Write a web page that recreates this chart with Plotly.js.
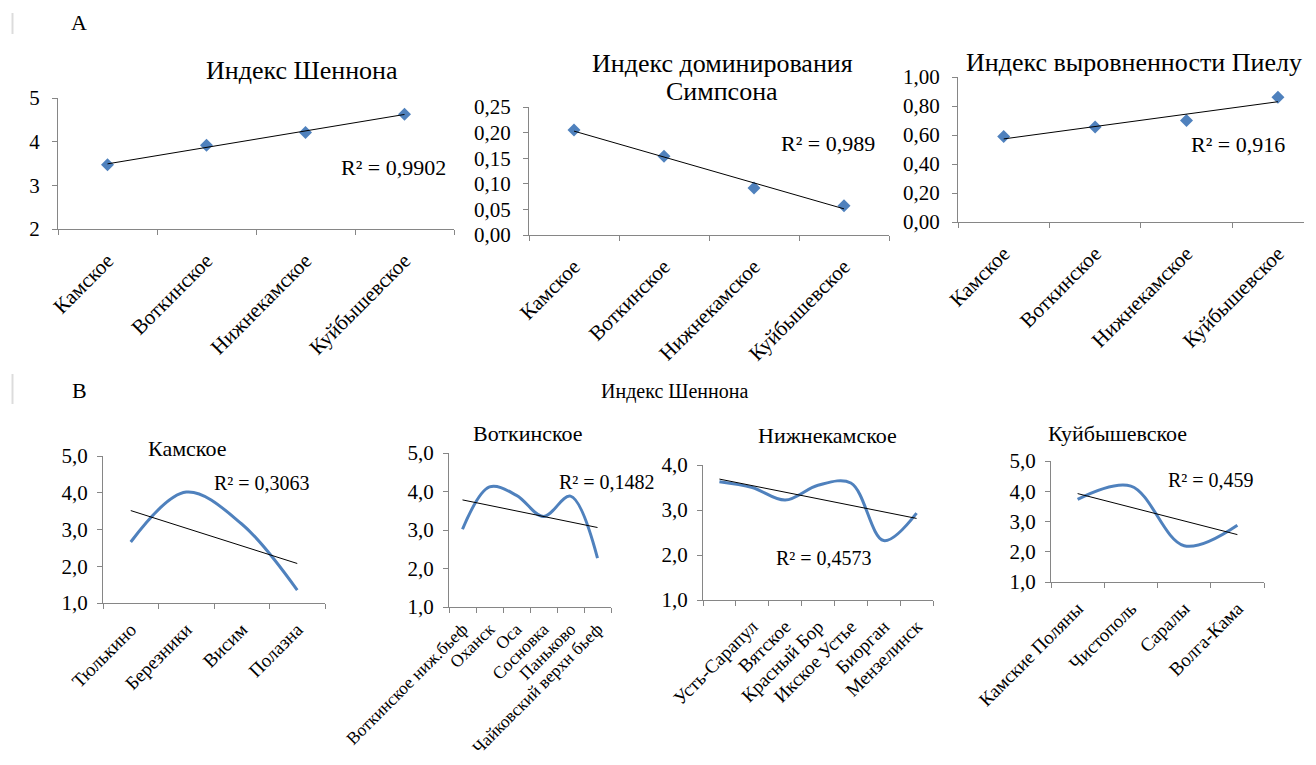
<!DOCTYPE html>
<html>
<head>
<meta charset="utf-8">
<script src="https://cdn.plot.ly/plotly-3.0.1.min.js"></script>
<style>html,body{margin:0;padding:0;background:#fff;}#chart{width:1316px;height:765px;}</style>
</head>
<body>
<div id="chart"></div>
<script>
// ---- Data ----
const reservoirs = ["Камское", "Воткинское", "Нижнекамское", "Куйбышевское"];
const shannonA = [3.47, 3.92, 4.21, 4.63];
const simpsonA = [0.205, 0.154, 0.092, 0.057];
const pielouA = [0.59, 0.655, 0.70, 0.86];

const kamLabels = ["Тюлькино", "Березники", "Висим", "Полазна"];
const kamValues = [2.66, 4.02, 3.15, 1.35];

const votLabels = ["Воткинское ниж.бьеф", "Оханск", "Оса", "Сосновка", "Паньково", "Чайковский верхн бьеф"];
const votValues = [3.02, 4.12, 3.9, 3.35, 3.88, 2.27];

const nizLabels = ["", "Усть-Сарапул", "Вятское", "Красный Бор", "Икское Устье", "Биорган", "Мензелинск"];
const nizValues = [3.63, 3.5, 3.22, 3.55, 3.6, 2.32, 2.93];

const kuiLabels = ["Камские Поляны", "Чистополь", "Саралы", "Волга-Кама"];
const kuiValues = [3.73, 4.17, 2.2, 2.88];

const r2Texts = ["R² = 0,9902", "R² = 0,989", "R² = 0,916", "R² = 0,3063", "R² = 0,1482", "R² = 0,4573", "R² = 0,459"];

// ---- Helpers ----
const W = 1316, H = 765;
const FONT = "Liberation Serif";
const BLUE = "#4F81BD";
const AXC = "#868686";
const idx = arr => arr.map((_, i) => i);
function fit(y) {
  const n = y.length, xs = idx(y);
  const mx = xs.reduce((a, b) => a + b, 0) / n, my = y.reduce((a, b) => a + b, 0) / n;
  let sxy = 0, sxx = 0;
  xs.forEach((x, i) => { sxy += (x - mx) * (y[i] - my); sxx += (x - mx) * (x - mx); });
  const b = sxy / sxx, a = my - b * mx;
  return { x: [0, n - 1], y: [a, a + b * (n - 1)] };
}
const xd = (l, r) => [l / W, r / W];
const yd = (t, b) => [1 - b / H, 1 - t / H];

const traces = [];
const layout = {
  width: W, height: H,
  margin: { l: 0, r: 0, t: 0, b: 0 },
  paper_bgcolor: "#fff", plot_bgcolor: "rgba(0,0,0,0)",
  showlegend: false,
  separators: ", ",
  font: { family: FONT, color: "#000" },
  annotations: [],
  shapes: []
};

function panel(k, labels, values, opts) {
  const xa = "x" + (k === 1 ? "" : k), ya = "y" + (k === 1 ? "" : k);
  const xs = idx(values);
  if (opts.markers) {
    traces.push({ x: xs, y: values, xaxis: xa, yaxis: ya, type: "scatter", mode: "markers",
      marker: { symbol: "diamond", size: 10, color: BLUE }, hoverinfo: "skip" });
  } else {
    traces.push({ x: xs, y: values, xaxis: xa, yaxis: ya, type: "scatter", mode: "lines",
      line: { color: BLUE, width: 3, shape: "spline", smoothing: 1 }, hoverinfo: "skip" });
  }
  const f = fit(values);
  traces.push({ x: f.x, y: f.y, xaxis: xa, yaxis: ya, type: "scatter", mode: "lines",
    line: { color: "#000", width: 1 }, hoverinfo: "skip" });
  const n = values.length;
  layout["xaxis" + (k === 1 ? "" : k)] = {
    domain: xd(opts.px[0], opts.px[1]), anchor: ya,
    range: [-0.5, opts.xmax !== undefined ? opts.xmax : n - 0.5],
    tickmode: "array", tickvals: xs, ticktext: labels, ticks: "", tickangle: -45,
    ticklabelstandoff: opts.xso,
    tickfont: { size: opts.xfs, family: FONT, color: "#000" },
    showline: true, linecolor: AXC, linewidth: 1, showgrid: false, zeroline: false,
    minor: { tickmode: "linear", tick0: -0.5, dtick: 1, ticks: "outside", ticklen: 5, tickcolor: AXC, showgrid: false },
    fixedrange: true
  };
  layout["yaxis" + (k === 1 ? "" : k)] = {
    domain: yd(opts.py[0], opts.py[1]), anchor: xa,
    range: opts.yr, tickmode: "linear", tick0: opts.yr[0], dtick: opts.dt, tickformat: opts.fmt,
    ticks: "outside", ticklen: 5, tickcolor: AXC, ticklabelstandoff: opts.yso,
    tickfont: { size: opts.yfs, family: FONT, color: "#000" },
    showline: true, linecolor: AXC, linewidth: 1, showgrid: false, zeroline: false,
    fixedrange: true
  };
}

const Aopt = { markers: true, xfs: 21, yfs: 21, xso: 10, yso: 8 };
const Bopt = { markers: false, xfs: 19, yfs: 21, xso: 7, yso: 5 };
panel(1, reservoirs, shannonA, Object.assign({}, Aopt, { px: [58, 454], py: [98, 229], yr: [2, 5], dt: 1, fmt: "d" }));
panel(2, reservoirs, simpsonA, Object.assign({}, Aopt, { px: [529, 889], py: [107, 235], yr: [0, 0.25], dt: 0.05, fmt: ".2f" }));
panel(3, reservoirs, pielouA, Object.assign({}, Aopt, { px: [958, 1304], py: [77, 222], yr: [0, 1], dt: 0.2, fmt: ".2f", xmax: 3.285 }));
panel(4, kamLabels, kamValues, Object.assign({}, Bopt, { px: [103, 325], py: [456, 603], yr: [1, 5], dt: 1, fmt: ".1f" }));
panel(5, votLabels, votValues, Object.assign({}, Bopt, { px: [449, 611], py: [453, 607], yr: [1, 5], dt: 1, fmt: ".1f", xfs: 17.5, xso: 4 }));
panel(6, nizLabels, nizValues, Object.assign({}, Bopt, { px: [703, 933], py: [465, 600], yr: [1, 4], dt: 1, fmt: ".1f" }));
panel(7, kuiLabels, kuiValues, Object.assign({}, Bopt, { px: [1051, 1264], py: [461, 582], yr: [1, 5], dt: 1, fmt: ".1f" }));

function ann(text, x, y, size, xanchor) {
  layout.annotations.push({ text: text, x: x / W, y: 1 - y / H, xref: "paper", yref: "paper",
    xanchor: xanchor || "center", yanchor: "middle", showarrow: false,
    font: { family: FONT, size: size, color: "#000" } });
}
ann("A", 79, 22, 22);
ann("B", 79, 391, 22);
ann("Индекс Шеннона", 302, 70, 26);
ann("Индекс доминирования", 722, 63, 26);
ann("Симпсона", 722, 91, 26);
ann("Индекс выровненности Пиелу", 1134, 62, 26);
ann("Индекс Шеннона", 674, 392, 20);
ann("Камское", 187, 448, 22);
ann("Воткинское", 528, 433, 22);
ann("Нижнекамское", 827, 435, 22);
ann("Куйбышевское", 1117, 433, 22);
ann(r2Texts[0], 339, 167, 22, "left");
ann(r2Texts[1], 779, 143, 22, "left");
ann(r2Texts[2], 1189, 144, 22, "left");
ann(r2Texts[3], 212, 483, 20, "left");
ann(r2Texts[4], 557, 482, 20, "left");
ann(r2Texts[5], 774, 558, 20, "left");
ann(r2Texts[6], 1166, 480, 20, "left");

[[13, 34], [374, 404]].forEach(([t, b]) => {
  layout.shapes.push({ type: "line", xref: "paper", yref: "paper", x0: 12.5 / W, x1: 12.5 / W,
    y0: 1 - t / H, y1: 1 - b / H, line: { color: "#dcdcdc", width: 2 } });
});

Plotly.newPlot("chart", traces, layout, { staticPlot: true, displayModeBar: false });
</script>
</body>
</html>
